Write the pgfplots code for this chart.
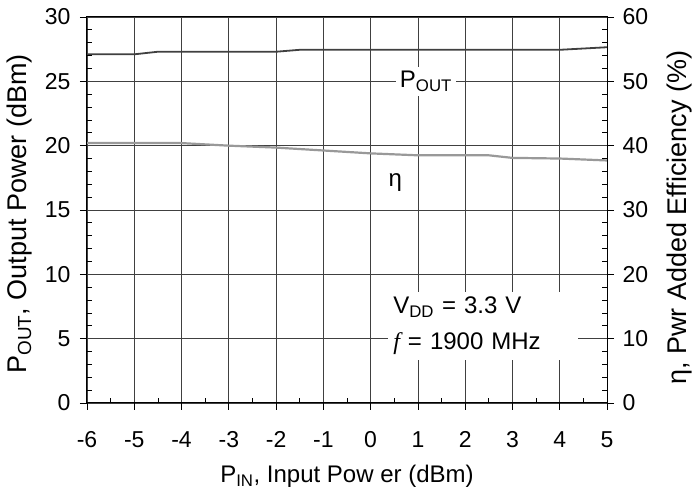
\documentclass[border=0pt]{standalone}
\usepackage{fontspec}
\setmainfont{Liberation Sans}
\newfontfamily\serif{Liberation Serif}
\usepackage{pgfplots}
\pgfplotsset{compat=1.18}

\begin{document}
\begin{tikzpicture}
\pgfplotsset{
  base/.style={
    scale only axis, width=520pt, height=386pt,
    xmin=-6, xmax=5,
    font=\fontsize{23}{27}\selectfont,
    /pgf/number format/assume math mode=true,
    axis line style={black, line width=1pt},
    tick style={black, line width=0.8pt},
  }
}
% left axis: output power
\begin{axis}[base,
    ymin=0, ymax=30,
    xtick={-6,...,5}, ytick={0,5,...,30},
    xtick pos=bottom, ytick pos=left,
    tick align=outside, major tick length=7pt,
    xticklabel style={yshift=-18pt},
    yticklabel style={xshift=-6pt},
    grid=major, major grid style={black!75, line width=0.8pt},
    xlabel={P\textsubscript{IN}, Input Pow er (dBm)},
    ylabel={P\textsubscript{OUT}, Output Power (dBm)},
    xlabel style={at={(axis description cs:0.5,-0.19)}, anchor=center, font=\fontsize{24}{28}\selectfont},
    ylabel style={at={(axis description cs:-0.13,0.49)}, anchor=center, rotate=0, font=\fontsize{27}{30}\selectfont},
  ]
  \addplot[color=black!75, line width=1.8pt] coordinates {
    (-6,27.1) (-5,27.1) (-4.5,27.3) (-2,27.3) (-1.5,27.45) (4,27.45) (5,27.65)
  };
  \node[fill=white, inner sep=4pt, font=\fontsize{24}{28}\selectfont] at (axis cs:1.17,25) {P\textsubscript{OUT}};
  \node[font=\fontsize{24}{28}\selectfont] at (axis cs:0.52,17.1) {η};
  \node[fill=white, align=left, text width=180pt, inner xsep=5pt, inner ysep=5pt, anchor=west,
        font=\fontsize{24}{36}\selectfont] at (axis cs:0.37,6.0)
    {V\textsubscript{DD} = 3.3 V\\{\serif\itshape f} = 1900 MHz};
\end{axis}
% right axis: efficiency
\begin{axis}[base,
    ymin=0, ymax=60,
    axis x line=none, axis y line*=right,
    ytick={0,10,...,60},
    tick align=outside, major tick length=7pt,
    yticklabel style={xshift=5pt},
    ylabel={η, Pwr Added Efficiency (\%)},
    ylabel style={at={(axis description cs:1.14,0.48)}, anchor=center, rotate=0, font=\fontsize{27}{30}\selectfont},
  ]
  \addplot[color=black!40, line width=2.2pt] coordinates {
    (-6,40.4) (-5,40.4) (-4,40.4) (-3,40.0) (-2,39.7) (-1,39.25) (0,38.8)
    (1,38.5) (2.5,38.5) (3,38.1) (4,38.0) (5,37.7)
  };
\end{axis}
% inner minor ticks
\begin{axis}[base,
    ymin=0, ymax=30,
    xtick={-6,...,5}, ytick={0,5,...,30},
    minor x tick num=1, minor y tick num=4,
    xticklabels={}, yticklabels={},
    xtick pos=bottom, ytick pos=both,
    tick align=inside, major tick length=0pt, minor tick length=5pt,
  ]
\end{axis}
\pgfresetboundingbox
\path (-87pt,-92pt) rectangle (607pt,403pt);
\end{tikzpicture}
\end{document}
